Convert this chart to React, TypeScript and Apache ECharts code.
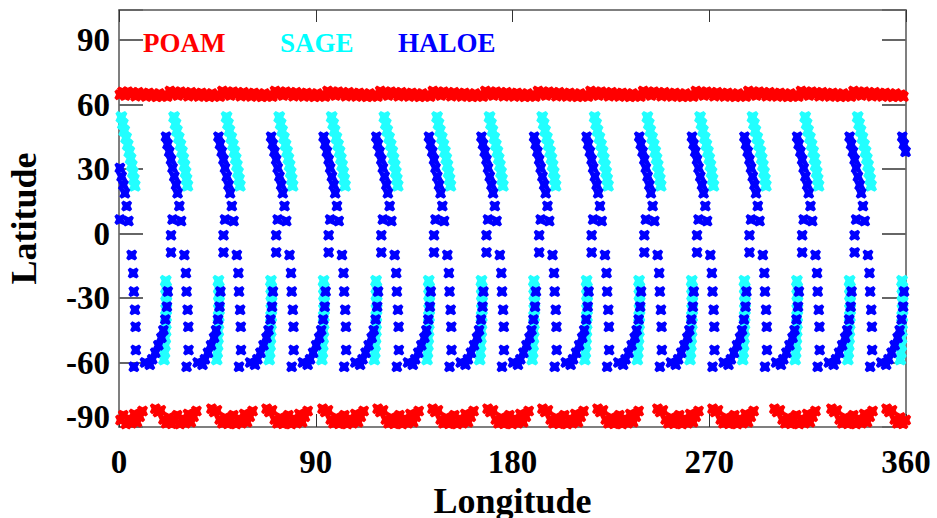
import { useEffect, useRef } from "react";
import * as echarts from "echarts";

// ---- axis ticks ----
const xTicks = [0, 90, 180, 270, 360];
const yTicks = [-90, -60, -30, 0, 30, 60, 90];

const haloeStarts = [-2.6, 21.5, 45.5, 69.6, 93.6, 117.7, 141.8, 165.8, 189.9, 213.9, 238.0, 262.1, 286.1, 310.2, 334.2, 358.3];
const haloeOffsets = [0.0, 0.7, 1.5, 2.3, 3.0, 3.8, 4.6, 5.3, 6.1, 3.0, 6.9, 2.3, 2.3, 8.4, 9.1, 9.4, 9.9, 10.2, 10.3, 9.4, 14.5, 16.7, 17.8, 19.2, 20.6, 22.0, 22.9, 23.8, 24.5, 24.9];
const haloeLats = [45.0, 41.5, 38.0, 34.3, 30.5, 26.5, 22.6, 18.8, 12.8, 6.5, 5.8, -0.8, -8.8, -10.0, -18.4, -27.0, -35.5, -43.4, -54.2, -62.0, -60.0, -61.0, -58.5, -55.5, -52.0, -48.5, -45.0, -40.0, -34.0, -27.0];

// ---- SAGE ----
const sageOffsets = [3.7, 4.35, 5.0, 5.85, 6.6, 7.3, 7.9, 8.45, 8.95, 9.4, 9.8, 24.0, 24.15, 24.2, 24.25, 24.2, 24.1, 24.0, 23.9, 23.75, 23.6, 23.4, 23.2];
const sageLats = [54.2, 51.0, 47.8, 44.5, 41.2, 38.0, 34.8, 31.6, 28.4, 25.2, 22.2, -22.0, -25.3, -28.6, -32.0, -35.3, -38.6, -42.0, -45.3, -48.6, -52.0, -55.3, -58.6];

// ---- POAM ----
const poamNorthStarts = [-0.8, 23.3, 47.3, 71.4, 95.4, 119.5, 143.6, 167.6, 191.7, 215.7, 239.8, 263.9, 287.9, 312.0, 336.0];
const poamNorthOffsets = [0, 1.2, 2.4, 3.6, 4.8, 6.0, 7.2, 8.4, 9.6, 10.8, 12.0, 13.2, 14.4, 15.6, 16.8, 18.0, 19.2, 20.4, 21.6, 22.8];
const poamNorthLats = [66.3, 64.6, 65.9, 64.2, 66.0, 64.9, 65.5, 63.9, 65.7, 64.4, 65.2, 63.8, 65.4, 64.0, 64.9, 63.6, 65.1, 63.9, 64.6, 63.7];
const poamSouthStarts = [-8.05, 16.6, 42.3, 67.5, 93.1, 118.3, 143.4, 168.6, 193.7, 218.9, 246.3, 271.5, 299.8, 325.9, 351.1];
const poamSouthOffsets = [0, 1.25, 2.5, 3.75, 5.0, 6.25, 7.5, 8.75, 10.0, 11.25, 12.5, 13.75, 15.0, 16.25, 17.5, 18.8];
const poamSouthLats = [-81.5, -83.0, -82.2, -86.5, -88.3, -85.6, -88.5, -86.8, -84.5, -88.6, -86.2, -88.2, -84.0, -87.8, -85.2, -82.6];

function build(starts: number[], offs: number[], lats: number[]) {
  const out: number[][] = [];
  starts.forEach((s) => offs.forEach((o, i) => out.push([+(s + o).toFixed(2), lats[i]])));
  return out;
}

const FONT = '"Liberation Serif", "Times New Roman", serif';
const MARK = "path://M0,2L2,0L5,1.5L8,0L10,2L8.5,5L10,8L8,10L5,8.5L2,10L0,8L1.5,5Z";

export default function App() {
  const ref = useRef<HTMLDivElement>(null);
  useEffect(() => {
    if (!ref.current) return;
    const chart = echarts.init(ref.current, null, { renderer: "svg" });
    const poam = build(poamNorthStarts, poamNorthOffsets, poamNorthLats).concat(
      build(poamSouthStarts, poamSouthOffsets, poamSouthLats)
    );
    const sage = build(haloeStarts, sageOffsets, sageLats);
    const haloe = build(haloeStarts, haloeOffsets, haloeLats);
    const frame = { show: true, onZero: false, lineStyle: { color: "#555", width: 1.5 } };
    const lbl = { fontFamily: FONT, fontWeight: "bold", fontSize: 33, color: "#000" };
    const legendItem = (name: string, color: string, left: number) => ({
      data: [{ name, textStyle: { color } }],
      left,
      top: 24,
      itemWidth: 0,
      itemHeight: 0,
      selectedMode: false,
      textStyle: { fontFamily: FONT, fontWeight: "bold", fontSize: 27, color },
    });
    chart.setOption({
      animation: false,
      backgroundColor: "#fff",
      grid: { left: 119, top: 10, right: 31, bottom: 91, outerBoundsMode: "none", containLabel: false },
      legend: [legendItem("POAM", "#ff0000", 133), legendItem("SAGE", "#00ffff", 270), legendItem("HALOE", "#0000ff", 388)],
      xAxis: [
        {
          type: "value", min: 0, max: 360, interval: 90, position: "bottom",
          axisLine: frame,
          axisTick: { show: true, inside: true, length: 13, lineStyle: { color: "#333", width: 1 } },
          axisLabel: { ...lbl, margin: 18, formatter: (v: number) => (xTicks.includes(v) ? String(v) : "") },
          splitLine: { show: false },
          name: "Longitude", nameLocation: "middle", nameGap: 55,
          nameTextStyle: { fontFamily: FONT, fontWeight: "bold", fontSize: 36, color: "#000" },
        },
        {
          type: "value", min: 0, max: 360, interval: 90, position: "top",
          axisLine: frame,
          axisTick: { show: true, inside: true, length: 12, lineStyle: { color: "#333", width: 1 } },
          axisLabel: { show: false },
          splitLine: { show: false },
        },
      ],
      yAxis: [
        {
          type: "value", min: -90, max: 104, interval: 30, position: "left",
          axisLine: frame,
          axisTick: { show: true, inside: true, length: 24, lineStyle: { color: "#666", width: 2 } },
          axisLabel: {
            ...lbl, margin: 9,
            formatter: (v: number) => (yTicks.includes(v) ? (v === -90 ? "{lo|" + v + "}" : "{n|" + v + "}") : ""),
            rich: {
              n: { ...lbl },
              lo: { ...lbl, padding: [0, 0, 20, 0] },
            },
          },
          splitLine: { show: false },
          name: "Latitude", nameLocation: "middle", nameGap: 77,
          nameTextStyle: { fontFamily: FONT, fontWeight: "bold", fontSize: 36, color: "#000" },
        },
        {
          type: "value", min: -90, max: 104, interval: 30, position: "right",
          axisLine: frame,
          axisTick: { show: true, inside: true, length: 24, lineStyle: { color: "#666", width: 2 } },
          axisLabel: { show: false },
          splitLine: { show: false },
        },
      ],
      series: [
        { name: "POAM", type: "scatter", data: poam, symbol: MARK, symbolSize: 11, itemStyle: { color: "#ff0000", opacity: 1 }, clip: true },
        { name: "SAGE", type: "scatter", data: sage, symbol: MARK, symbolSize: 12, itemStyle: { color: "#22ffff", opacity: 1 }, clip: true },
        { name: "HALOE", type: "scatter", data: haloe, symbol: MARK, symbolSize: 11, itemStyle: { color: "#0000ff", opacity: 1 }, clip: true },
      ],
    });
    return () => chart.dispose();
  }, []);
  return <div ref={ref} style={{ width: 937, height: 518, position: "absolute", left: 0, top: 0 }} />;
}
